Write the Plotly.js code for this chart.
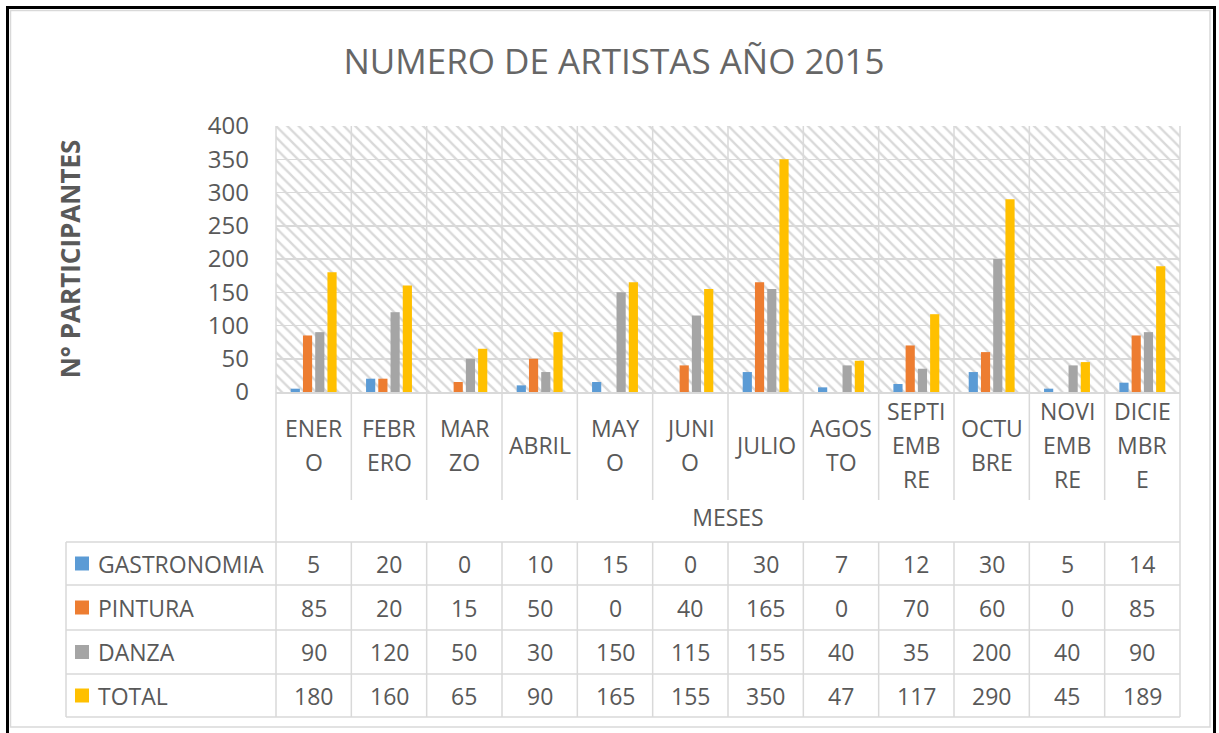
<!DOCTYPE html>
<html>
<head>
<meta charset="utf-8">
<script src="https://cdn.plot.ly/plotly-3.0.1.min.js"></script>
<style>
  html, body { margin: 0; padding: 0; background: #ffffff; }
  #chart { width: 1219px; height: 733px; }
</style>
</head>
<body>
<div id="chart"></div>
<script>
// ---------- DATA ----------
const months = ['ENERO','FEBRERO','MARZO','ABRIL','MAYO','JUNIO','JULIO','AGOSTO','SEPTIEMBRE','OCTUBRE','NOVIEMBRE','DICIEMBRE'];
const monthLines = [['ENER','O'],['FEBR','ERO'],['MAR','ZO'],['ABRIL'],['MAY','O'],['JUNI','O'],['JULIO'],['AGOS','TO'],['SEPTI','EMB','RE'],['OCTU','BRE'],['NOVI','EMB','RE'],['DICIE','MBR','E']];
const seriesNames = ['GASTRONOMIA','PINTURA','DANZA','TOTAL'];
const gastronomia = [5,20,0,10,15,0,30,7,12,30,5,14];
const pintura     = [85,20,15,50,0,40,165,0,70,60,0,85];
const danza       = [90,120,50,30,150,115,155,40,35,200,40,90];
const total       = [180,160,65,90,165,155,350,47,117,290,45,189];
const yTicks = [0,50,100,150,200,250,300,350,400];
const yMax = 400;
const chartTitle = 'NUMERO DE ARTISTAS AÑO 2015';
const yTitle = 'N° PARTICIPANTES';
const xTitle = 'MESES';

// ---------- STYLE ----------
const colors = ['#5B9BD5','#ED7D31','#A5A5A5','#FFC000'];
const FONT = '"Open Sans", Lato, sans-serif';
const TXT = '#595959';
const GRID = '#D9D9D9';
const W = 1219, H = 733;
const PL = 276, PR = 1180, PT = 126, PB = 392;
const px = p => (p - PL) / (PR - PL);
const py = p => (PB - p) / (PB - PT);

const seriesValues = [gastronomia, pintura, danza, total];

const traces = [];
// hatched plot-area background
traces.push({
  type: 'bar', x: [0.5], y: [yMax], width: [1],
  xaxis: 'x', yaxis: 'y',
  marker: { color: '#D9D9D9', line: { width: 0 },
    pattern: { shape: '\\', size: 8, solidity: 0.3, fillmode: 'replace' } },
  hoverinfo: 'skip', showlegend: false
});
seriesNames.forEach((n, k) => {
  traces.push({
    type: 'bar', name: n, x: months, y: seriesValues[k],
    xaxis: 'x2', yaxis: 'y',
    marker: { color: colors[k], line: { width: 0 } }
  });
});

const shapes = [];
const annotations = [];
const line = (x0, y0, x1, y1, color, width) => shapes.push({
  type: 'line', xref: 'paper', yref: 'paper',
  x0: px(x0), y0: py(y0), x1: px(x1), y1: py(y1),
  line: { color: color || GRID, width: width || 1.5 }
});

// outer frame
shapes.push({ type: 'rect', xref: 'paper', yref: 'paper',
  x0: px(7.5), y0: py(7.5), x1: px(1214.5), y1: py(745),
  line: { color: '#000000', width: 3 } });
shapes.push({ type: 'rect', xref: 'paper', yref: 'paper',
  x0: px(10.5), y0: py(10.5), x1: px(1210), y1: py(727),
  line: { color: '#D9D9D9', width: 1.5 } });

// category separators
const n = months.length;
const rowEdges = [542, 585, 630, 674, 717];
const rowCenters = [563.5, 607.5, 652, 695.5];
for (let i = 0; i <= n; i++) {
  const xp = PL + (PR - PL) * i / n;
  if (i === 0 || i === n) {
    line(xp, PT, xp, 717);
  } else {
    line(xp, PT, xp, 500);
    line(xp, 542, xp, 717);
  }
}
line(66, 542, 66, 717);
rowEdges.forEach(y => line(66, y, PR, y));

// month labels (wrapped as in the original)
monthLines.forEach((lines, i) => {
  lines.forEach((t, j) => {
    annotations.push({
      xref: 'x2', yref: 'paper', x: months[i], y: py(445 + (j - (lines.length - 1) / 2) * 34),
      text: t, showarrow: false, xanchor: 'center', yanchor: 'middle',
      font: { family: FONT, size: 23, color: TXT }
    });
  });
});

// data table
seriesNames.forEach((name, k) => {
  const yc = rowCenters[k];
  shapes.push({ type: 'rect', xref: 'paper', yref: 'paper',
    x0: px(75), x1: px(89), y0: py(yc - 7), y1: py(yc + 7),
    fillcolor: colors[k], line: { width: 0 } });
  annotations.push({
    xref: 'paper', yref: 'paper', x: px(96), y: py(yc),
    text: name, showarrow: false, xanchor: 'left', yanchor: 'middle',
    font: { family: FONT, size: 23, color: TXT }
  });
  seriesValues[k].forEach((v, i) => {
    annotations.push({
      xref: 'x2', yref: 'paper', x: months[i], y: py(yc),
      text: String(v), showarrow: false, xanchor: 'center', yanchor: 'middle',
      font: { family: FONT, size: 23, color: TXT }
    });
  });
});

const layout = {
  width: W, height: H,
  margin: { l: PL, r: W - PR, t: PT, b: H - PB, pad: 0 },
  paper_bgcolor: '#ffffff', plot_bgcolor: '#ffffff',
  showlegend: false,
  barmode: 'group', bargap: 0.35, bargroupgap: 0.25,
  title: { text: chartTitle, x: 614 / W, xanchor: 'center', xref: 'container',
    y: 1 - 62 / H, yanchor: 'middle', yref: 'container',
    font: { family: FONT, size: 35, color: '#666666' } },
  xaxis: { type: 'linear', range: [0, 1], showgrid: false, zeroline: false,
    showticklabels: false, ticks: '', showline: true, linecolor: GRID, linewidth: 1.5,
    fixedrange: true,
    title: { text: xTitle, standoff: 117, font: { family: FONT, size: 23, color: TXT } } },
  xaxis2: { type: 'category', overlaying: 'x', range: [-0.5, n - 0.5], visible: false, fixedrange: true },
  yaxis: { range: [0, yMax], tickvals: yTicks, ticktext: yTicks.map(String),
    showgrid: true, gridcolor: GRID, gridwidth: 1.5, zeroline: false, showline: false,
    ticks: '', ticklabelstandoff: 26, fixedrange: true,
    tickfont: { family: FONT, size: 24, color: TXT },
    title: { text: yTitle, standoff: 119, font: { family: FONT, size: 26, color: TXT, weight: 'bold' } } },
  shapes: shapes,
  annotations: annotations
};

Plotly.newPlot('chart', traces, layout, { displayModeBar: false, staticPlot: true });
</script>
</body>
</html>
